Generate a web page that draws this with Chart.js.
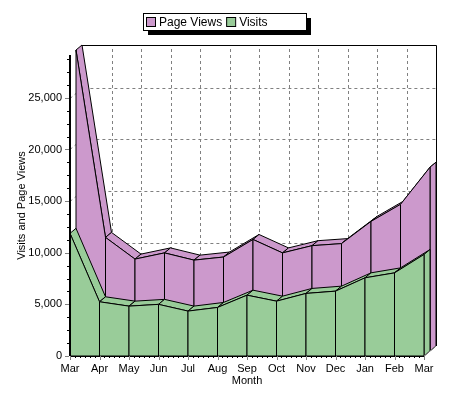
<!DOCTYPE html>
<html>
<head>
<meta charset="utf-8">
<script src="https://cdn.jsdelivr.net/npm/chart.js@4.4.0/dist/chart.umd.min.js"></script>
<style>html,body{margin:0;padding:0;background:#fff}</style>
</head>
<body>
<canvas id="chart" width="450" height="400"></canvas>
<script>
const months = ['Mar', 'Apr', 'May', 'Jun', 'Jul', 'Aug', 'Sep', 'Oct', 'Nov', 'Dec', 'Jan', 'Feb', 'Mar']
const pageViews = [29150, 11000, 8900, 9500, 8800, 9100, 10800, 9500, 10200, 10400, 12550, 14200, 17800]
const visits = [11880, 5250, 4830, 5000, 4350, 4700, 5890, 5310, 6060, 6280, 7570, 8050, 9830]
const yTickValues = [0, 5000, 10000, 15000, 20000, 25000]
const yMax = 29150

const PURPLE = '#CC99CC'
const GREEN = '#99CC99'
const DX = 6, DY = -5  // depth of one series
const FONT = '"Liberation Sans", Arial, sans-serif'

Chart.defaults.font.family = FONT
Chart.defaults.color = '#000'

function poly (ctx, pts) {
  ctx.beginPath()
  pts.forEach((p, k) => k ? ctx.lineTo(p[0], p[1]) : ctx.moveTo(p[0], p[1]))
  ctx.closePath()
  ctx.fill()
  ctx.stroke()
}

// one 3d area band, depth 0 = front
function drawSeries (chart, values, depth, color) {
  const ctx = chart.ctx
  const xs = chart.scales.x, ys = chart.scales.y
  const base = ys.getPixelForValue(0)
  const fx = depth * DX, fy = depth * DY
  const bx = fx + DX, by = fy + DY
  const pts = values.map((v, i) => [xs.getPixelForValue(i), ys.getPixelForValue(v)])
  ctx.save()
  ctx.fillStyle = color
  ctx.strokeStyle = '#000'
  ctx.lineWidth = 1
  ctx.lineJoin = 'round'
  for (let i = 0; i < pts.length - 1; i++) {
    const a = pts[i], b = pts[i + 1]
    poly(ctx, [[a[0] + fx, a[1] + fy], [b[0] + fx, b[1] + fy], [b[0] + bx, b[1] + by], [a[0] + bx, a[1] + by]])
  }
  const last = pts[pts.length - 1]
  poly(ctx, [[last[0] + fx, last[1] + fy], [last[0] + bx, last[1] + by], [last[0] + bx, base + by], [last[0] + fx, base + fy]])
  for (let i = 0; i < pts.length - 1; i++) {
    const a = pts[i], b = pts[i + 1]
    poly(ctx, [[a[0] + fx, a[1] + fy], [b[0] + fx, b[1] + fy], [b[0] + fx, base + fy], [a[0] + fx, base + fy]])
  }
  ctx.restore()
}

const area3d = {
  id: 'area3d',
  beforeDatasetsDraw (chart) {
    const ctx = chart.ctx
    const xs = chart.scales.x, ys = chart.scales.y
    const { left, right, top, bottom } = chart.chartArea
    const wx = DX * 2, wy = DY * 2
    ctx.save()
    ctx.lineWidth = 1
    // back wall grid
    ctx.strokeStyle = '#808080'
    ctx.setLineDash([3, 3])
    yTickValues.forEach(v => {
      if (v === 0) return
      const y = Math.round(ys.getPixelForValue(v)) + 0.5
      ctx.beginPath()
      ctx.moveTo(left, y)
      ctx.lineTo(left + wx, y + wy)
      ctx.lineTo(right + wx, y + wy)
      ctx.stroke()
    })
    for (let i = 1; i < months.length - 1; i++) {
      const x = Math.round(xs.getPixelForValue(i)) + 0.5
      ctx.beginPath()
      ctx.moveTo(x + wx, bottom + wy)
      ctx.lineTo(x + wx, top + wy)
      ctx.stroke()
    }
    ctx.setLineDash([])
    ctx.strokeStyle = '#000'
    ctx.beginPath()
    ctx.moveTo(left + wx, Math.round(top + wy) + 0.5)
    ctx.lineTo(Math.round(right + wx) + 0.5, Math.round(top + wy) + 0.5)
    ctx.lineTo(Math.round(right + wx) + 0.5, bottom + wy)
    ctx.stroke()
    ctx.restore()

    drawSeries(chart, chart.data.datasets[0].data, 1, PURPLE)
    drawSeries(chart, chart.data.datasets[1].data, 0, GREEN)
  },
  afterDatasetsDraw (chart) {
    const ctx = chart.ctx
    const xs = chart.scales.x, ys = chart.scales.y
    const { left, right, top, bottom } = chart.chartArea
    ctx.save()
    // axes
    ctx.fillStyle = '#000'
    ctx.fillRect(left - 1, top, 2, bottom - top)
    ctx.strokeStyle = '#000'
    ctx.lineWidth = 1
    ctx.beginPath()
    ctx.moveTo(left, Math.round(bottom) + 0.5)
    ctx.lineTo(right, Math.round(bottom) + 0.5)
    ctx.stroke()
    ctx.strokeStyle = '#808080'
    ctx.beginPath()
    ctx.moveTo(right, bottom)
    ctx.lineTo(right + DX * 2, bottom + DY * 2)
    ctx.stroke()
    // y ticks
    for (let v = 0; v <= yMax; v += 1250) {
      const y = Math.round(ys.getPixelForValue(v)) + 0.5
      const major = v % 5000 === 0
      ctx.strokeStyle = major ? '#808080' : '#000'
      ctx.beginPath()
      ctx.moveTo(left - (major ? 5 : 3), y)
      ctx.lineTo(left - 1, y)
      ctx.stroke()
    }
    // x ticks
    for (let i = 0; i < months.length; i++) {
      const x = Math.round(xs.getPixelForValue(i)) + 0.5
      ctx.strokeStyle = '#808080'
      ctx.beginPath()
      ctx.moveTo(x, bottom)
      ctx.lineTo(x, bottom + 4)
      ctx.stroke()
      if (i < months.length - 1) {
        const step = (xs.getPixelForValue(i + 1) - xs.getPixelForValue(i)) / 6
        ctx.strokeStyle = '#000'
        for (let k = 1; k < 6; k++) {
          const xm = Math.round(xs.getPixelForValue(i) + step * k) + 0.5
          ctx.beginPath()
          ctx.moveTo(xm, bottom)
          ctx.lineTo(xm, bottom + 2)
          ctx.stroke()
        }
      }
    }
    ctx.restore()
  },
  afterDraw (chart) {
    // legend box
    const ctx = chart.ctx
    const bx = 143, by = 13, bw = 163, bh = 17
    ctx.save()
    ctx.fillStyle = '#000'
    ctx.fillRect(bx + 5, by + 5, bw, bh)
    ctx.fillStyle = '#fff'
    ctx.fillRect(bx, by, bw, bh)
    ctx.strokeStyle = '#000'
    ctx.lineWidth = 1
    ctx.strokeRect(bx + 0.5, by + 0.5, bw, bh)
    ctx.font = '12px ' + FONT
    ctx.textBaseline = 'middle'
    let x = bx + 3
    chart.data.datasets.forEach(ds => {
      ctx.fillStyle = ds.backgroundColor
      ctx.fillRect(x, by + 4, 9, 9)
      ctx.strokeRect(x + 0.5, by + 4.5, 9, 9)
      ctx.fillStyle = '#000'
      ctx.fillText(ds.label, x + 13, by + 9.5)
      x += 13 + ctx.measureText(ds.label).width + 4
    })
    ctx.restore()
  }
}

new Chart(document.getElementById('chart'), {
  type: 'line',
  data: {
    labels: months,
    datasets: [
      { label: 'Page Views', data: pageViews, backgroundColor: PURPLE, borderColor: '#000', showLine: false, pointRadius: 0 },
      { label: 'Visits', data: visits, backgroundColor: GREEN, borderColor: '#000', showLine: false, pointRadius: 0 }
    ]
  },
  options: {
    responsive: false,
    animation: false,
    devicePixelRatio: 1,
    layout: { padding: { top: 55, right: 26, bottom: 0, left: 0 } },
    plugins: { legend: { display: false }, tooltip: { enabled: false } },
    scales: {
      x: {
        offset: false,
        grid: { display: true, drawOnChartArea: false, drawTicks: true, tickLength: 4, color: 'rgba(0,0,0,0)' },
        border: { display: false },
        ticks: { font: { size: 11 }, padding: 2, maxRotation: 0, autoSkip: false },
        title: { display: true, text: 'Month', font: { size: 11 }, padding: { top: 0, bottom: 12 } },
        afterFit (s) { s.height = 44 }
      },
      y: {
        min: 0,
        max: yMax,
        grid: { display: true, drawOnChartArea: false, drawTicks: true, tickLength: 4, color: 'rgba(0,0,0,0)' },
        border: { display: false },
        ticks: { font: { size: 11 }, padding: 4, callback: v => v.toLocaleString('en-US') },
        afterBuildTicks (s) { s.ticks = yTickValues.map(v => ({ value: v })) },
        title: { display: true, text: 'Visits and Page Views', font: { size: 11 }, padding: { top: 15, bottom: 0 } },
        afterFit (s) { s.width = 70 }
      }
    }
  },
  plugins: [area3d]
})
</script>
</body>
</html>
